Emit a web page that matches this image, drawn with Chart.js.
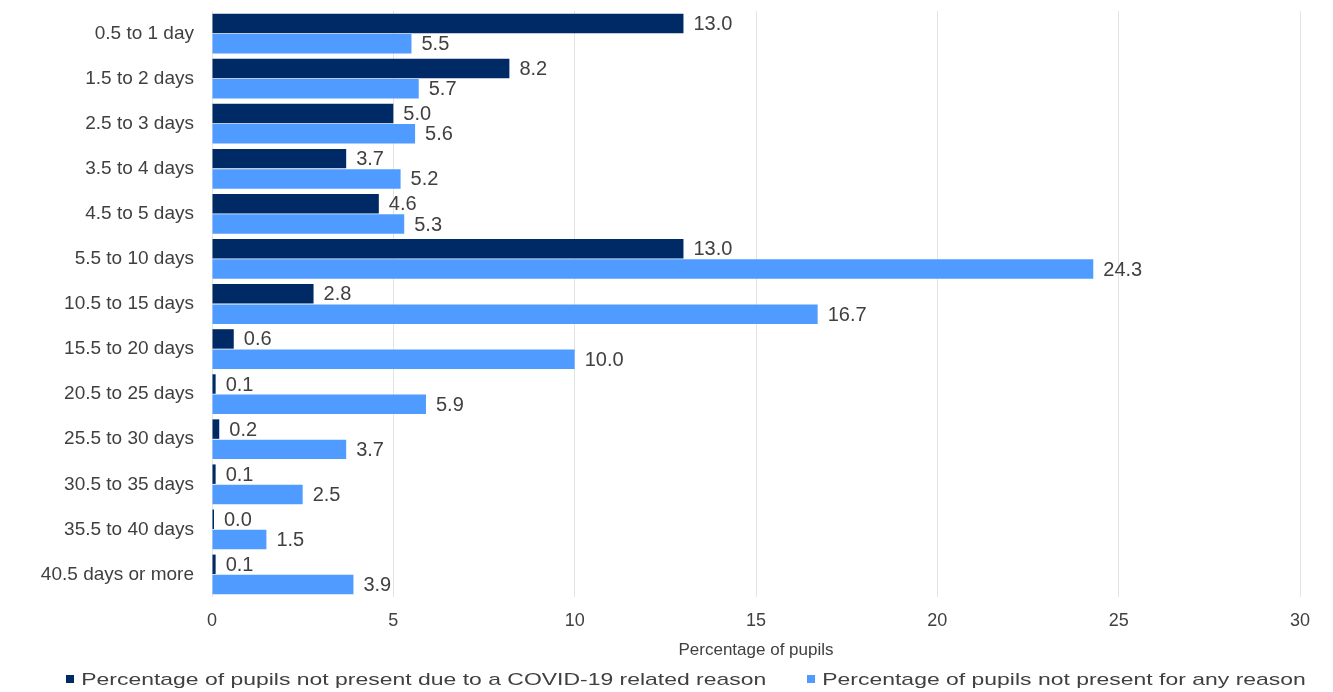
<!DOCTYPE html>
<html>
<head>
<meta charset="utf-8">
<script src="https://cdn.jsdelivr.net/npm/chart.js@4"></script>
<style>
  html, body { margin: 0; padding: 0; background: #ffffff; overflow: hidden; }
  canvas { display: block; }
</style>
</head>
<body>
<canvas id="chart" width="1333" height="692"></canvas>
<script>
// Length of absence bands
const categories = [
  '0.5 to 1 day', '1.5 to 2 days', '2.5 to 3 days', '3.5 to 4 days', '4.5 to 5 days',
  '5.5 to 10 days', '10.5 to 15 days', '15.5 to 20 days', '20.5 to 25 days',
  '25.5 to 30 days', '30.5 to 35 days', '35.5 to 40 days', '40.5 days or more'
];
// Percentage of pupils not present due to a COVID-19 related reason
const covidValues = [13.0, 8.2, 5.0, 3.7, 4.6, 13.0, 2.8, 0.6, 0.1, 0.2, 0.1, 0.0, 0.1];
// Percentage of pupils not present for any reason
const anyReasonValues = [5.5, 5.7, 5.6, 5.2, 5.3, 24.3, 16.7, 10.0, 5.9, 3.7, 2.5, 1.5, 3.9];
// X axis ticks
const xTicks = [0, 5, 10, 15, 20, 25, 30];

const seriesNames = [
  'Percentage of pupils not present due to a COVID-19 related reason',
  'Percentage of pupils not present for any reason'
];
const seriesColors = ['#002a65', '#4f9bff'];

const FONT = '"Liberation Sans", Arial, sans-serif';
const TEXT = '#404040';

// Writes each bar's value just past its end
const valueLabels = {
  id: 'valueLabels',
  afterDatasetsDraw(chart) {
    const ctx = chart.ctx;
    const x0 = chart.scales.x.getPixelForValue(0);
    ctx.save();
    ctx.font = '20px ' + FONT;
    ctx.fillStyle = TEXT;
    ctx.textAlign = 'left';
    ctx.textBaseline = 'middle';
    chart.data.datasets.forEach((ds, di) => {
      const meta = chart.getDatasetMeta(di);
      meta.data.forEach((bar, i) => {
        const v = ds.data[i];
        const end = Math.max(bar.x, x0 + 2);
        ctx.fillText(v.toFixed(1), end + 10, bar.y + 1);
      });
    });
    ctx.restore();
  }
};

// Legend row under the axis title, with a wide set type
const wideLegend = {
  id: 'wideLegend',
  afterDraw(chart) {
    const ctx = chart.ctx;
    const sx = 1.35, box = 8, gap = 7, itemGap = 41;
    const cx = 686, cy = 679;
    ctx.save();
    ctx.font = '17px ' + FONT;
    ctx.textBaseline = 'middle';
    ctx.textAlign = 'left';
    const widths = chart.data.datasets.map(ds => ctx.measureText(ds.label).width * sx);
    const total = widths.reduce((a, w) => a + box + gap + w, 0) + itemGap * (widths.length - 1);
    let x = cx - total / 2;
    chart.data.datasets.forEach((ds, i) => {
      ctx.fillStyle = ds.backgroundColor;
      ctx.fillRect(Math.round(x), Math.round(cy - box / 2), box, box);
      ctx.save();
      ctx.translate(x + box + gap, cy + 1);
      ctx.scale(sx, 1);
      ctx.fillStyle = TEXT;
      ctx.fillText(ds.label, 0, 0);
      ctx.restore();
      x += box + gap + widths[i] + itemGap;
    });
    ctx.restore();
  }
};

new Chart(document.getElementById('chart'), {
  type: 'bar',
  data: {
    labels: categories,
    datasets: [
      {
        label: seriesNames[0],
        data: covidValues,
        backgroundColor: seriesColors[0],
        categoryPercentage: 0.9,
        barPercentage: 0.96,
        minBarLength: 2
      },
      {
        label: seriesNames[1],
        data: anyReasonValues,
        backgroundColor: seriesColors[1],
        categoryPercentage: 0.9,
        barPercentage: 0.96
      }
    ]
  },
  options: {
    indexAxis: 'y',
    responsive: false,
    animation: false,
    devicePixelRatio: 1,
    layout: { padding: { left: 0, right: 33, top: 11, bottom: 31 } },
    scales: {
      x: {
        min: 0,
        max: 30,
        afterBuildTicks(scale) { scale.ticks = xTicks.map(v => ({ value: v })); },
        afterFit(scale) {
          scale.height = 64;
          scale.paddingLeft = 0;
          scale.paddingRight = 0;
        },
        grid: { color: '#e4e4e4', lineWidth: 1, drawTicks: false },
        border: { display: false },
        ticks: {
          color: TEXT,
          font: { family: FONT, size: 18 },
          padding: 13,
          maxRotation: 0
        },
        title: {
          display: true,
          text: 'Percentage of pupils',
          color: TEXT,
          font: { family: FONT, size: 17 },
          padding: { top: 4, bottom: 0 }
        }
      },
      y: {
        grid: { display: false, drawTicks: false },
        border: { display: false },
        afterFit(scale) {
          scale.width = 212;
          scale.paddingTop = 0;
          scale.paddingBottom = 0;
        },
        ticks: {
          color: TEXT,
          font: { family: FONT, size: 19 },
          padding: 18,
          autoSkip: false
        }
      }
    },
    plugins: {
      legend: { display: false },
      tooltip: { enabled: false }
    }
  },
  plugins: [valueLabels, wideLegend]
});
</script>
</body>
</html>
